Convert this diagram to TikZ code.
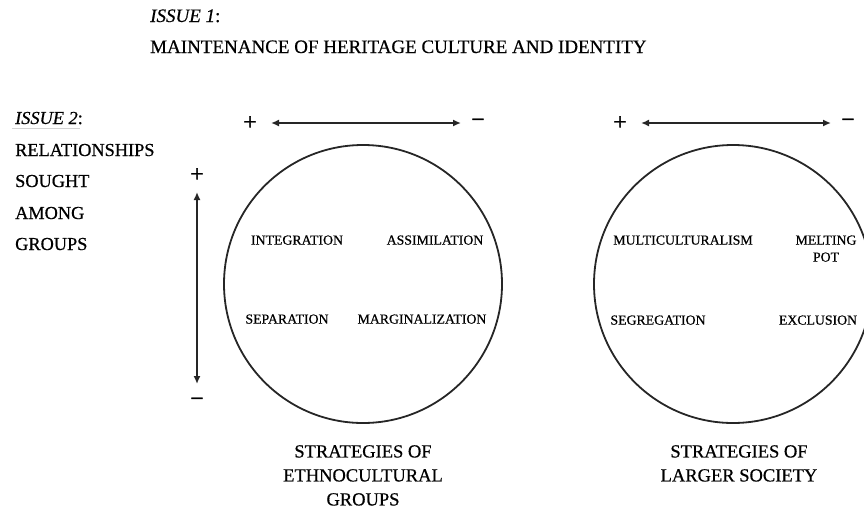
\documentclass[tikz,border=0pt]{standalone}
\usepackage{fontspec}
\setmainfont{Liberation Serif}[FakeBold=0.6]
\newfontfamily\signfont{Liberation Serif}[FakeBold=1.2]
\usetikzlibrary{arrows.meta}
\begin{document}
\begin{tikzpicture}[x=1pt,y=-1pt,
  ring/.style={circle,draw=black!85,line width=1.8pt,minimum size=278pt,inner sep=0pt},
  axis/.style={draw=black!85,line width=1.8pt,{Latex[length=8pt,width=7pt]}-{Latex[length=8pt,width=7pt]}},
  head/.style={font=\fontsize{19}{23}\selectfont,inner sep=0pt,anchor=base west},
  side/.style={font=\fontsize{18.3}{22}\selectfont,inner sep=0pt,anchor=base west},
  lab/.style={font=\fontsize{13.8}{16}\selectfont,inner sep=0pt,anchor=base},
  caption/.style={font=\fontsize{18.5}{24}\selectfont,align=center,inner sep=0pt,anchor=north},
  sign/.style={font=\signfont\fontsize{24}{24}\selectfont,inner sep=0pt}]
\useasboundingbox (0,0) rectangle (864,509);
\clip (0,0) rectangle (864,509);

% issue headings
\node[head] (i1) at (150,22) {\textit{ISSUE 1}:};
\node[head] (i1t) at (150,53) {MAINTENANCE OF HERITAGE CULTURE AND IDENTITY};
\node[side] (i2) at (15,124) {\textit{ISSUE 2}:};
\draw[gray!35,line width=0.8pt] (12,128) -- (80,128);
\node[side] (r1) at (15,156) {RELATIONSHIPS};
\node[side] (r2) at (15,187) {SOUGHT};
\node[side] (r3) at (15,219) {AMONG};
\node[side] (r4) at (15,250) {GROUPS};

% the two circles
\node[ring] (c1) at (363,284) {};
\node[ring] (c2) at (733,284) {};

% horizontal scales
\node[sign] (pL) at (250,123) {+};
\node[sign] (mL) at (478,123) {−};
\coordinate (aL1) at (271,123);
\coordinate (aL2) at (461,123);
\draw[axis] (aL1) -- (aL2);
\node[sign] (pR) at (620,123) {+};
\node[sign] (mR) at (848,123) {−};
\coordinate (aR1) at (641,123);
\coordinate (aR2) at (831,123);
\draw[axis] (aR1) -- (aR2);

% vertical scale
\node[sign] (pV) at (197,175) {+};
\node[sign] (mV) at (197,402) {−};
\coordinate (v1) at (197,192);
\coordinate (v2) at (197,384);
\draw[axis] (v1) -- (v2);

% strategies of ethnocultural groups
\node[lab] (integ) at (297,244.6) {INTEGRATION};
\node[lab] (assim) at (435,244.6) {ASSIMILATION};
\node[lab] (separ) at (287,323.6) {SEPARATION};
\node[lab] (margi) at (422,323.6) {MARGINALIZATION};

% strategies of larger society
\node[lab] (multi) at (683,244.6) {MULTICULTURALISM};
\node[lab] (melt) at (826,244.6) {MELTING};
\node[lab] (pot) at (826,261.6) {POT};
\node[lab] (segr) at (658,324.6) {SEGREGATION};
\node[lab] (excl) at (818,324.6) {EXCLUSION};

% captions
\node[caption] (capL) at (363,445) {STRATEGIES OF\\ETHNOCULTURAL\\GROUPS};
\node[caption] (capR) at (739,445) {STRATEGIES OF\\LARGER SOCIETY};
\end{tikzpicture}
\end{document}
